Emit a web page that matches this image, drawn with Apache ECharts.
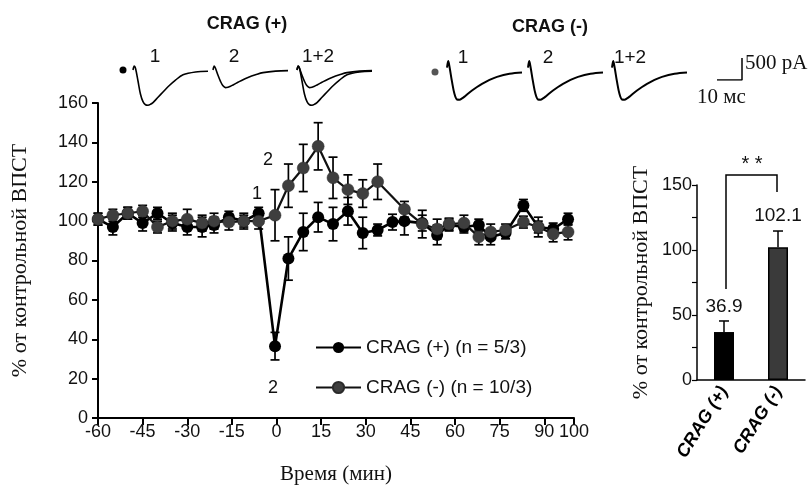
<!DOCTYPE html>
<html><head><meta charset="utf-8">
<script src="https://cdn.jsdelivr.net/npm/echarts@6/dist/echarts.min.js"></script>
<style>html,body{margin:0;padding:0;background:#fff}#c{width:809px;height:490px}</style>
</head><body><div id="c"></div>
<script>
// ---- time course data ----
const times = [-60,-55,-50,-45,-40,-35,-30,-25,-21,-16,-11,-6,-0.5,4,9,14,19,24,29,34,39,43,49,54,58,63,68,72,77,83,88,93,98];
const cragPlus = [101,97,104,99,104,99,97,97,98,102,100,104,36.5,81,94.5,102,98.5,105,94,95.5,99.5,100,99,93,98,97,98,92,94,108,97,96,101];
const cragPlusErr = [3,4,3,4,3,4,4,5,4,3,3,3,7,11,9.5,7.5,8.5,7,8,3,4,7,4,5,3,3,3,4,3,3,3,3,3];
const cragMinus = [101,103,104,105,97,100,101,99,100,99.5,100,100,103,118,127,138,122,116,114,120,null,106,98.5,96,98.5,99,92,94.5,95.5,99.5,97,93.5,94.5];
const cragMinusErr = [3,3,3,3,3,4,5,4,4,4,4,4,13,11,12,12,10.5,7.5,7,9,null,4,7,5,3,4,4,4,3,3,5,4,4];
const xTicks = [-60,-45,-30,-15,0,15,30,45,60,75,90,100];
const seriesNames = ['CRAG (+) (n = 5/3)', 'CRAG (-) (n = 10/3)'];

// ---- summary bars ----
const barCats = ['CRAG (+)', 'CRAG (-)'];
const barVals = [36.9, 102.1];
const barErr = [8.5, 12.5];

// ---- example traces (ms, pA) ----
const traceMs = [0,0.5,1,2,3,4,5,6,7,8,10,12,14,17,20,25,30];
const plusTrace1 = [0,90,40,-250,-550,-720,-790,-800,-780,-740,-620,-500,-380,-230,-110,-45,-30];
const plusTrace2 = [0,90,40,-120,-260,-360,-400,-390,-370,-340,-280,-220,-170,-110,-60,-25,-15];
const minusTrace = [100,250,120,-220,-500,-625,-630,-600,-560,-510,-420,-340,-270,-180,-110,-40,-10];
const scaleBarMs = [0,10,10];
const scaleBarPA = [0,0,500];

const sans = '"Liberation Sans", Arial, sans-serif';
const serif = '"Liberation Serif", "Times New Roman", serif';

function pairs(xs, ys){ return xs.map((x,i)=> ys[i]==null ? null : [x, ys[i]]).filter(d=>d); }
function errData(xs, ys, es){ return xs.map((x,i)=> ys[i]==null ? null : [x, ys[i]-es[i], ys[i]+es[i]]).filter(d=>d); }

function errRender(params, api){
  const x = api.value(0), lo = api.value(1), hi = api.value(2);
  const p1 = api.coord([x, lo]), p2 = api.coord([x, hi]);
  const w = 4.5, st = {stroke:'#000', lineWidth:1.7};
  return {type:'group', children:[
    {type:'line', shape:{x1:p1[0],y1:p1[1],x2:p2[0],y2:p2[1]}, style:st},
    {type:'line', shape:{x1:p1[0]-w,y1:p1[1],x2:p1[0]+w,y2:p1[1]}, style:st},
    {type:'line', shape:{x1:p2[0]-w,y1:p2[1],x2:p2[0]+w,y2:p2[1]}, style:st}
  ]};
}
function barErrRender(params, api){
  const x = api.value(0), v = api.value(1), hi = api.value(2);
  const p1 = api.coord([x, v]), p2 = api.coord([x, hi]);
  const w = 5, st = {stroke:'#000', lineWidth:1.5};
  return {type:'group', children:[
    {type:'line', shape:{x1:p1[0],y1:p1[1],x2:p2[0],y2:p2[1]}, style:st},
    {type:'line', shape:{x1:p2[0]-w,y1:p2[1],x2:p2[0]+w,y2:p2[1]}, style:st}
  ]};
}

// trace grids
const traceGrids = [
  {left:133, base:70, curves:[plusTrace1]},
  {left:213, base:70, curves:[plusTrace2]},
  {left:297, base:70, curves:[plusTrace1, plusTrace2]},
  {left:447, base:72, curves:[minusTrace]},
  {left:528, base:72, curves:[minusTrace]},
  {left:612, base:72, curves:[minusTrace]}
];
const pxPerPA = 22/500;
const grids = [
  {left:98, top:103, width:476, height:321},
  {left:697, top:185, width:108, height:195}
];
const xAxes = [
  {gridIndex:0, type:'value', min:-60, max:100, interval:15,
   axisLine:{onZero:false, lineStyle:{color:'#000', width:2}}, axisTick:{inside:false, length:7, lineStyle:{color:'#000', width:2}},
   axisLabel:{color:'#111', fontSize:18, fontFamily:sans, margin:5,
     formatter:v=> xTicks.indexOf(v)>=0 ? String(v) : ''},
   splitLine:{show:false},
   name:'Время (мин)', nameLocation:'middle', nameGap:46, nameTextStyle:{fontFamily:serif, fontSize:21, color:'#111'}},
  {gridIndex:1, type:'category', data:barCats,
   axisLine:{lineStyle:{color:'#000', width:1.5}}, axisTick:{show:false},
   axisLabel:{rotate:58, color:'#000', fontSize:18, fontStyle:'italic', fontWeight:'bold', fontFamily:sans, margin:8}}
];
const yAxes = [
  {gridIndex:0, type:'value', min:0, max:160, interval:20,
   axisLine:{show:true, onZero:false, lineStyle:{color:'#000', width:2}}, axisTick:{show:true, length:6, lineStyle:{color:'#000', width:2}},
   axisLabel:{color:'#111', fontSize:18, fontFamily:sans, margin:10}, splitLine:{show:false},
   name:'% от контрольной ВПСТ', nameLocation:'middle', nameGap:67, nameRotate:90,
   nameTextStyle:{fontFamily:serif, fontSize:22, color:'#111'}},
  {gridIndex:1, type:'value', min:0, max:150, interval:25,
   axisLine:{show:true, onZero:false, lineStyle:{color:'#000', width:1.5}}, axisTick:{show:true, length:5, lineStyle:{color:'#000', width:1.2}},
   axisLabel:{color:'#111', fontSize:18, fontFamily:sans, margin:5, formatter:v=> v%50===0 ? String(v) : ''},
   splitLine:{show:false},
   name:'% от контрольной ВПСТ', nameLocation:'middle', nameGap:45, nameRotate:90,
   nameTextStyle:{fontFamily:serif, fontSize:22, color:'#111'}}
];
const series = [
  {type:'custom', name:'errPlus', xAxisIndex:0, yAxisIndex:0, renderItem:errRender, data:errData(times,cragPlus,cragPlusErr), z:1, silent:true},
  {type:'custom', name:'errMinus', xAxisIndex:0, yAxisIndex:0, renderItem:errRender, data:errData(times,cragMinus,cragMinusErr), z:1, silent:true},
  {type:'line', name:seriesNames[0], xAxisIndex:0, yAxisIndex:0, data:pairs(times,cragPlus), symbol:'circle', symbolSize:12,
   itemStyle:{color:'#000'}, lineStyle:{color:'#000', width:2.6}, z:3},
  {type:'line', name:seriesNames[1], xAxisIndex:0, yAxisIndex:0, data:pairs(times,cragMinus), symbol:'circle', symbolSize:12,
   itemStyle:{color:'#3e3e3e', borderColor:'#2a2a2a', borderWidth:0.5}, lineStyle:{color:'#111', width:2.2}, z:4},
  {type:'bar', xAxisIndex:1, yAxisIndex:1, barWidth:20,
   data:[
     {value:barVals[0], itemStyle:{color:'#000'}, label:{distance:16}},
     {value:barVals[1], itemStyle:{color:'#3a3a3a', borderColor:'#000', borderWidth:1.5}, label:{distance:22}}
   ],
   label:{show:true, position:'top', fontSize:19, fontFamily:sans, color:'#111'}},
  {type:'custom', xAxisIndex:1, yAxisIndex:1, renderItem:barErrRender,
   data:barVals.map((v,i)=>[i, v, v+barErr[i]]), z:5, silent:true}
];

traceGrids.forEach((tg,gi)=>{
  const idx = grids.length;
  grids.push({left:tg.left, top:tg.base - 300*pxPerPA, width:75, height:1150*pxPerPA});
  xAxes.push({gridIndex:idx, type:'value', min:0, max:30, show:false});
  yAxes.push({gridIndex:idx, type:'value', min:-850, max:300, show:false});
  tg.curves.forEach(c=>{
    series.push({type:'line', xAxisIndex:idx, yAxisIndex:idx, data:pairs(traceMs,c), symbol:'none', smooth:0.35,
      lineStyle:{color:'#000', width: gi<3 ? 1.6 : 2}, silent:true});
  });
});
{
  const idx = grids.length;
  grids.push({left:717, top:58, width:25, height:22});
  xAxes.push({gridIndex:idx, type:'value', min:0, max:10, show:false});
  yAxes.push({gridIndex:idx, type:'value', min:0, max:500, show:false});
  series.push({type:'line', xAxisIndex:idx, yAxisIndex:idx, data:pairs(scaleBarMs,scaleBarPA), symbol:'none',
    lineStyle:{color:'#000', width:1.5}, silent:true});
}

const txt = (x,y,t,o)=>Object.assign({type:'text', x:x, y:y, style:Object.assign({text:t, fontSize:19, fontFamily:sans, fill:'#111', align:'center', verticalAlign:'middle'}, o||{})});
const graphic = [
  txt(247,24,'CRAG (+)',{fontWeight:'bold', fontSize:18}),
  txt(550,27,'CRAG (-)',{fontWeight:'bold', fontSize:18}),
  txt(155,57,'1'), txt(234,57,'2'), txt(318,57,'1+2'),
  txt(463,58,'1'), txt(548,58,'2'), txt(630,58,'1+2'),
  {type:'circle', shape:{cx:123, cy:70, r:3.5}, style:{fill:'#000'}},
  {type:'circle', shape:{cx:435, cy:72, r:3.5}, style:{fill:'#555'}},
  txt(745,63,'500 pA',{fontFamily:serif, fontSize:21, align:'left'}),
  txt(697,97,'10 мс',{fontFamily:serif, fontSize:21, align:'left'}),
  txt(257,194,'1',{fontSize:18}), txt(268,160,'2',{fontSize:18}), txt(273,388,'2',{fontSize:18}),
  {type:'polyline', shape:{points:[[726,289],[726,175],[777,175],[777,192]]}, style:{stroke:'#000', lineWidth:1.5, fill:null}},
  txt(752,164,'* *',{fontSize:20})
];

const chart = echarts.init(document.getElementById('c'), null, {renderer:'canvas'});
chart.setOption({
  animation:false,
  backgroundColor:'#fff',
  grid:grids, xAxis:xAxes, yAxis:yAxes, series:series,
  legend:[
    {data:[seriesNames[0]], left:310, top:333, itemWidth:45, itemHeight:14, itemGap:5,
     textStyle:{fontSize:19, fontFamily:sans, color:'#111'}, selectedMode:false},
    {data:[seriesNames[1]], left:310, top:373, itemWidth:45, itemHeight:14, itemGap:5,
     textStyle:{fontSize:19, fontFamily:sans, color:'#111'}, selectedMode:false}
  ],
  graphic:graphic
});
</script></body></html>
